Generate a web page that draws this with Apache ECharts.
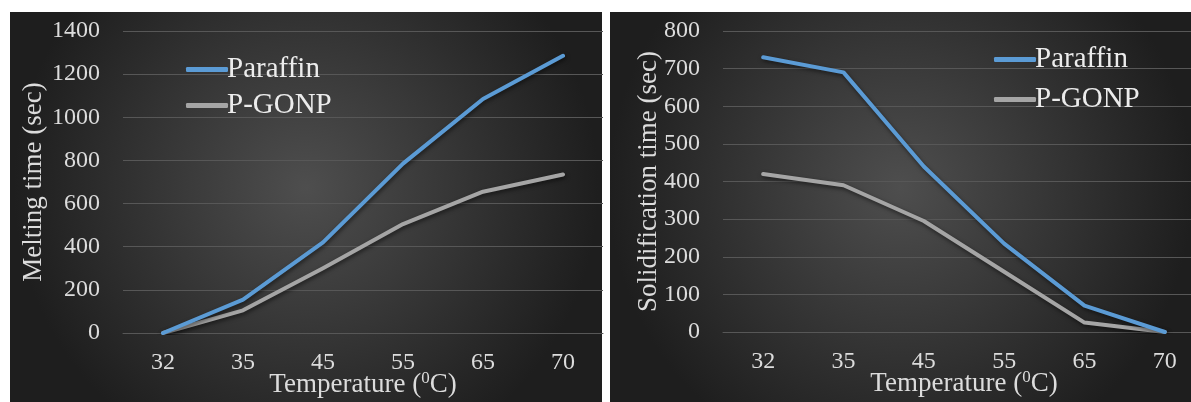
<!DOCTYPE html>
<html>
<head>
<meta charset="utf-8">
<script src="https://cdn.jsdelivr.net/npm/echarts@6/dist/echarts.min.js"></script>
<style>
  html, body { margin: 0; padding: 0; background: #fff; }
  #chart { width: 1191px; height: 402px; }
</style>
</head>
<body>
<div id="chart"></div>
<script>
// temperatures on the x axis (both panels)
const temps = ['32', '35', '45', '55', '65', '70']

// melting time (sec), left panel
const meltParaffin = [0, 155, 420, 785, 1085, 1285]
const meltPGONP = [0, 105, 300, 505, 655, 735]

// solidification time (sec), right panel
const solidParaffin = [730, 690, 440, 235, 70, 0]
const solidPGONP = [420, 390, 295, 160, 25, 0]

const seriesNames = ['Paraffin', 'P-GONP']
const colors = ['#5b9bd5', '#a5a5a5']

const FONT = '"Liberation Serif", "DejaVu Serif", serif'
const labelColor = '#dcdcdc'
const gridColor = '#575757'

function panelBg(x, y, w, h) {
  return {
    type: 'rect',
    z: -10,
    silent: true,
    shape: { x, y, width: w, height: h },
    style: {
      fill: {
        type: 'radial', x: 0.5, y: 0.45, r: 0.75,
        colorStops: [
          { offset: 0, color: '#4e4e4e' },
          { offset: 1, color: '#1e1e1e' },
        ],
      },
    },
  }
}

function xAxisFor(gridIndex) {
  return {
    type: 'category',
    gridIndex,
    data: temps,
    boundaryGap: true,
    name: 'Temperature ({sup|0}C)',
    nameLocation: 'middle',
    nameGap: 37,
    nameMoveOverlap: false,
    nameTextStyle: {
      color: labelColor, fontFamily: FONT, fontSize: 27,
      rich: {
        sup: { color: labelColor, fontFamily: FONT, fontSize: 17, verticalAlign: 'top', padding: [0, 0, 12, 0] },
      },
    },
    axisLine: { show: true, lineStyle: { color: gridColor, width: 1 } },
    axisTick: { show: false },
    axisLabel: { color: labelColor, fontFamily: FONT, fontSize: 24, margin: 18 },
    splitLine: { show: false },
  }
}

function yAxisFor(gridIndex, name, max, interval, nameGap) {
  return {
    type: 'value',
    gridIndex,
    min: 0,
    max,
    interval,
    name,
    nameLocation: 'middle',
    nameGap,
    nameMoveOverlap: false,
    nameTextStyle: { color: labelColor, fontFamily: FONT, fontSize: 27 },
    axisLine: { show: false },
    axisTick: { show: false },
    axisLabel: { color: labelColor, fontFamily: FONT, fontSize: 24, margin: 23, formatter: v => String(v) },
    splitLine: { show: true, lineStyle: { color: gridColor, width: 1 } },
  }
}

function lineSeries(name, data, idx, color) {
  return {
    type: 'line',
    name,
    data,
    xAxisIndex: idx,
    yAxisIndex: idx,
    symbol: 'none',
    smooth: false,
    color,
    lineStyle: {
      width: 4, color, cap: 'round', join: 'round',
      shadowColor: 'rgba(0,0,0,0.55)', shadowBlur: 4, shadowOffsetX: 1, shadowOffsetY: 2,
    },
  }
}

const legendBase = {
  orient: 'vertical',
  icon: 'roundRect',
  itemWidth: 42,
  itemHeight: 5,
  itemGap: 7,
  textStyle: { color: '#ececec', fontFamily: FONT, fontSize: 29, padding: [0, 0, 0, -6] },
  data: seriesNames,
}

const chart = echarts.init(document.getElementById('chart'), null, { renderer: 'canvas' })

chart.setOption({
  backgroundColor: '#ffffff',
  animation: false,
  graphic: [
    panelBg(10, 12, 592, 390),
    panelBg(610, 12, 581, 390),
  ],
  legend: [
    Object.assign({}, legendBase, { left: 181, top: 50 }),
    Object.assign({}, legendBase, { left: 989, top: 40, itemGap: 11 }),
  ],
  grid: [
    { left: 123, width: 480, top: 31, bottom: 69, outerBoundsMode: 'none', containLabel: false },
    { left: 723, width: 482, top: 31, bottom: 70, outerBoundsMode: 'none', containLabel: false },
  ],
  xAxis: [xAxisFor(0), xAxisFor(1)],
  yAxis: [
    yAxisFor(0, 'Melting time (sec)', 1400, 200, 76),
    yAxisFor(1, 'Solidification time (sec)', 800, 100, 61),
  ],
  series: [
    lineSeries(seriesNames[1], meltPGONP, 0, colors[1]),
    lineSeries(seriesNames[0], meltParaffin, 0, colors[0]),
    lineSeries(seriesNames[1], solidPGONP, 1, colors[1]),
    lineSeries(seriesNames[0], solidParaffin, 1, colors[0]),
  ],
})
</script>
</body>
</html>
